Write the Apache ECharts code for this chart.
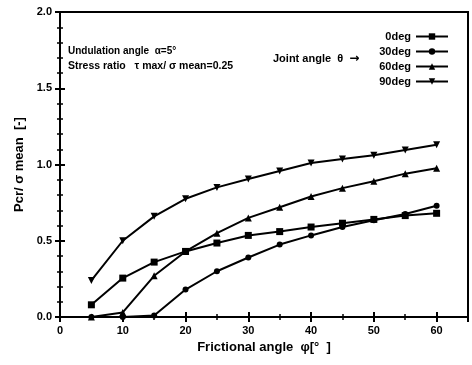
<!DOCTYPE html>
<html>
<head>
<meta charset="utf-8">
<script src="https://cdn.jsdelivr.net/npm/echarts@6/dist/echarts.min.js"></script>
<style>
html, body { margin: 0; padding: 0; background: #fff; }
#main { width: 472px; height: 365px; }
</style>
</head>
<body>
<div id="main"></div>
<script>
var angles = [5, 10, 15, 20, 25, 30, 35, 40, 45, 50, 55, 60];
var names = ['0deg', '30deg', '60deg', '90deg'];
var deg0 = [0.08, 0.255, 0.36, 0.43, 0.485, 0.535, 0.56, 0.59, 0.615, 0.64, 0.665, 0.68];
var deg30 = [0.0, 0.0, 0.01, 0.18, 0.30, 0.39, 0.475, 0.535, 0.59, 0.635, 0.675, 0.73];
var deg60 = [0.0, 0.03, 0.27, 0.43, 0.55, 0.65, 0.72, 0.79, 0.845, 0.89, 0.94, 0.975];
var deg90 = [0.24, 0.50, 0.66, 0.775, 0.85, 0.905, 0.957, 1.01, 1.036, 1.06, 1.095, 1.13];

var dom = document.getElementById('main');
var myChart = echarts.init(dom);

function pairs(arr) {
    return angles.map(function (a, i) { return [a, arr[i]]; });
}

var font = 'Liberation Sans';
var lineSeries = function (name, data, symbol, rotate) {
    return {
        name: name,
        type: 'line',
        data: pairs(data),
        symbol: symbol,
        symbolSize: symbol === 'circle' ? 6 : 7,
        symbolRotate: rotate || 0,
        itemStyle: { color: '#000' },
        lineStyle: { color: '#000', width: 2 },
        xAxisIndex: 0,
        yAxisIndex: 0
    };
};

var tickStyle = { show: true, inside: true, length: 5, lineStyle: { color: '#000', width: 2 } };
var minorStyle = { show: true, splitNumber: 2, length: 3, lineStyle: { color: '#000', width: 1.5 } };
var yMinor = { show: true, splitNumber: 5, length: 3, lineStyle: { color: '#000', width: 1.5 } };

option = {
    animation: false,
    grid: { left: 60, right: 4, top: 12, bottom: 48, show: true, borderColor: '#000', borderWidth: 2 },
    legend: {
        orient: 'vertical',
        right: 18,
        top: 26,
        align: 'right',
        itemWidth: 32,
        itemHeight: 8,
        itemGap: 4,
        data: names,
        textStyle: { fontFamily: font, fontWeight: 'bold', fontSize: 11, color: '#000' }
    },
    graphic: [
        { type: 'text', left: 68, top: 46, style: { text: 'Undulation angle  α=5°', font: 'bold 10px Liberation Sans', fill: '#000' } },
        { type: 'text', left: 68, top: 61, style: { text: 'Stress ratio   τ max/ σ mean=0.25', font: 'bold 10.5px Liberation Sans', fill: '#000' } },
        {
            type: 'text', left: 273, top: 53,
            style: {
                text: '{a|Joint angle  θ  }{b|→}',
                rich: {
                    a: { font: 'bold 11px Liberation Sans', fill: '#000' },
                    b: { font: 'bold 12px DejaVu Sans', fill: '#000' }
                }
            }
        }
    ],
    xAxis: [{
        type: 'value',
        min: 0, max: 65, interval: 10,
        name: 'Frictional angle  φ[°  ]',
        nameLocation: 'middle',
        nameGap: 24,
        nameTextStyle: { fontFamily: font, fontWeight: 'bold', fontSize: 13, color: '#000' },
        axisLine: { lineStyle: { color: '#000', width: 2 } },
        axisTick: tickStyle,
        minorTick: minorStyle,
        splitLine: { show: false },
        axisLabel: {
            fontFamily: font, fontWeight: 'bold', fontSize: 11, color: '#000',
            showMaxLabel: false
        }
    }, {
        type: 'value', position: 'top',
        min: 0, max: 65, interval: 10,
        axisLine: { lineStyle: { color: '#000', width: 2 } },
        axisTick: tickStyle,
        minorTick: minorStyle,
        splitLine: { show: false },
        axisLabel: { show: false }
    }],
    yAxis: [{
        type: 'value',
        min: 0, max: 2, interval: 0.5,
        name: 'Pcr/ σ mean  [-]',
        nameLocation: 'middle',
        nameGap: 34,
        nameTextStyle: { fontFamily: font, fontWeight: 'bold', fontSize: 13, color: '#000' },
        axisLine: { show: true, lineStyle: { color: '#000', width: 2 } },
        axisTick: tickStyle,
        minorTick: yMinor,
        splitLine: { show: false },
        axisLabel: {
            fontFamily: font, fontWeight: 'bold', fontSize: 11, color: '#000',
            formatter: function (v) { return v.toFixed(1); }
        }
    }, {
        type: 'value', position: 'right',
        min: 0, max: 2, interval: 0.5,
        axisLine: { show: true, lineStyle: { color: '#000', width: 2 } },
        axisTick: tickStyle,
        minorTick: yMinor,
        splitLine: { show: false },
        axisLabel: { show: false }
    }],
    series: [
        lineSeries(names[0], deg0, 'rect'),
        lineSeries(names[1], deg30, 'circle'),
        lineSeries(names[2], deg60, 'triangle'),
        lineSeries(names[3], deg90, 'triangle', 180)
    ]
};

if (option && typeof option === "object") {
    myChart.setOption(option, true);
}
</script>
</body>
</html>
